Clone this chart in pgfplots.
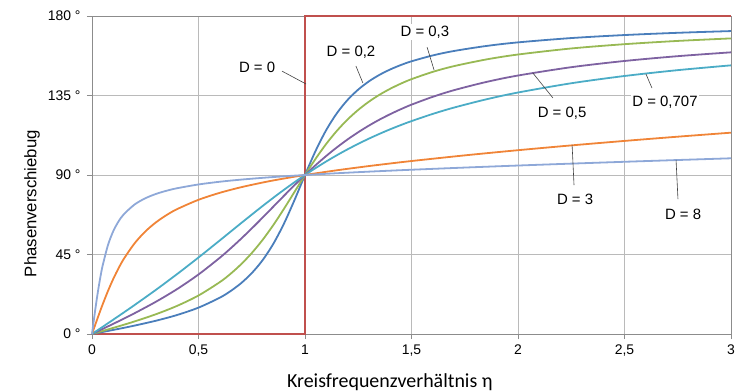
\documentclass[border=0pt]{standalone}
\usepackage{pgfplots}
\pgfplotsset{compat=1.18}
\usepackage{fontspec}
\setmainfont{Liberation Sans}
\newfontfamily\calib{Carlito}
\definecolor{cZero}{HTML}{C0504D}
\definecolor{cA}{HTML}{4A7EBB}
\definecolor{cB}{HTML}{98B954}
\definecolor{cC}{HTML}{7E62A1}
\definecolor{cD}{HTML}{4BACC6}
\definecolor{cE}{HTML}{F08437}
\definecolor{cF}{HTML}{8EA8D8}
\definecolor{gridc}{HTML}{BABABA}
\definecolor{axc}{HTML}{8C8C8C}
\begin{document}
\begin{tikzpicture}
\begin{axis}[
  scale only axis, width=639bp, height=318bp,
  xmin=0, xmax=3, ymin=0, ymax=180,
  clip=false,
  xtick={0,0.5,1,1.5,2,2.5,3},
  xticklabels={0,{0,5},1,{1,5},2,{2,5},3},
  ytick={0,45,90,135,180},
  yticklabels={0 °,45 °,90 °,135 °,180 °},
  tick label style={font=\fontsize{14}{14}\selectfont, black},
  xtick pos=bottom, ytick pos=left,
  tick align=outside, major tick length=5bp,
  tick style={axc, line width=0.75bp},
  grid=major, major grid style={gridc, line width=0.9bp},
  axis line style={axc, line width=0.9bp},
  xticklabel style={yshift=-2bp},
  yticklabel style={xshift=-3bp},
  xlabel={\calib Kreisfrequenzverhältnis η},
  xlabel style={font=\fontsize{20}{20}\selectfont, at={(axis description cs:0.466,-0.151)}, anchor=center},
  ylabel={Phasenverschiebug},
  ylabel style={font=\fontsize{16.8}{16.8}\selectfont, at={(axis description cs:-0.0939,0.41)}, anchor=center},
  every axis plot/.append style={line width=1.8bp},
]
% D = 0
\addplot[cZero, no marks, line join=miter] coordinates {(0,0) (1,0) (1,180) (3,180)};
% D = 0.2
\addplot[cA, no marks, smooth] coordinates {
(0,0) (0.05,1.149) (0.1,2.314) (0.15,3.512) (0.2,4.764) (0.3,7.512) (0.4,10.78) (0.5,14.93) (0.6,20.56) (0.65,24.24) (0.7,28.77) (0.75,34.44) (0.8,41.63) (0.85,50.78) (0.9,62.17) (0.95,75.61) (1,90) (1.05,103.72) (1.1,115.52) (1.15,125.03) (1.2,132.51) (1.25,138.37) (1.3,143.00) (1.35,146.71) (1.4,149.74) (1.45,152.25) (1.5,154.36) (1.6,157.69) (1.7,160.21) (1.85,163.01) (2,165.07) (2.25,167.51) (2.5,169.22) (2.75,170.49) (3,171.47)};
% D = 0.3
\addplot[cB, no marks, smooth] coordinates {
(0,0) (0.05,1.723) (0.1,3.468) (0.15,5.261) (0.2,7.125) (0.3,11.19) (0.4,15.95) (0.5,21.80) (0.6,29.36) (0.65,34.03) (0.7,39.48) (0.75,45.81) (0.8,53.13) (0.85,61.45) (0.9,70.62) (0.95,80.29) (1,90) (1.05,99.24) (1.1,107.65) (1.15,115.05) (1.2,121.43) (1.25,126.87) (1.3,131.50) (1.35,135.44) (1.4,138.81) (1.45,141.72) (1.5,144.25) (1.6,148.39) (1.7,151.64) (1.85,155.38) (2,158.20) (2.25,161.62) (2.5,164.05) (2.75,165.89) (3,167.32)};
% D = 0.5
\addplot[cC, no marks, smooth] coordinates {
(0,0) (0.05,2.870) (0.1,5.768) (0.15,8.724) (0.2,11.77) (0.3,18.25) (0.4,25.46) (0.5,33.69) (0.6,43.15) (0.65,48.38) (0.7,53.92) (0.75,59.74) (0.8,65.77) (0.85,71.92) (0.9,78.08) (0.95,84.14) (1,90) (1.05,95.58) (1.1,100.81) (1.15,105.67) (1.2,110.14) (1.25,114.23) (1.3,117.96) (1.35,121.36) (1.4,124.44) (1.45,127.25) (1.5,129.81) (1.6,134.27) (1.7,138.03) (1.85,142.63) (2,146.31) (2.25,151.02) (2.5,154.54) (2.75,157.26) (3,159.44)};
% D = 0.707
\addplot[cD, no marks, smooth] coordinates {
(0,0) (0.05,4.054) (0.1,8.129) (0.15,12.24) (0.2,16.41) (0.3,24.99) (0.4,33.96) (0.5,43.31) (0.6,52.97) (0.65,57.86) (0.7,62.74) (0.75,67.58) (0.8,72.35) (0.85,77.00) (0.9,81.51) (0.95,85.85) (1,90) (1.05,93.95) (1.1,97.69) (1.15,101.22) (1.2,104.54) (1.25,107.65) (1.3,110.58) (1.35,113.31) (1.4,115.88) (1.45,118.27) (1.5,120.51) (1.6,124.59) (1.7,128.18) (1.85,132.80) (2,136.69) (2.25,141.93) (2.5,146.04) (2.75,149.35) (3,152.07)};
% D = 3
\addplot[cE, no marks, smooth] coordinates {
(0,0) (0.01,3.434) (0.02,6.846) (0.03,10.21) (0.04,13.52) (0.05,16.74) (0.075,24.35) (0.1,31.22) (0.125,37.30) (0.15,42.64) (0.2,51.34) (0.25,57.99) (0.3,63.18) (0.35,67.32) (0.4,70.71) (0.5,75.96) (0.6,79.92) (0.7,83.08) (0.8,85.71) (0.85,86.89) (0.9,87.98) (0.95,89.02) (1,90) (1.05,90.93) (1.1,91.82) (1.15,92.68) (1.2,93.50) (1.3,95.06) (1.4,96.52) (1.5,97.91) (1.75,101.11) (2,104.04) (2.25,106.75) (2.5,109.29) (2.75,111.69) (3,113.96)};
% D = 8
\addplot[cF, no marks, smooth] coordinates {
(0,0) (0.01,9.09) (0.02,17.75) (0.03,25.66) (0.04,32.66) (0.05,38.73) (0.075,50.35) (0.1,58.25) (0.125,63.79) (0.15,67.84) (0.2,73.30) (0.25,76.81) (0.3,79.27) (0.35,81.09) (0.4,82.52) (0.5,84.64) (0.6,86.19) (0.7,87.39) (0.8,88.39) (0.85,88.83) (0.9,89.24) (0.95,89.63) (1,90) (1.05,90.35) (1.1,90.68) (1.15,91.00) (1.2,91.31) (1.3,91.90) (1.4,92.45) (1.5,92.98) (1.75,94.21) (2,95.36) (2.25,96.44) (2.5,97.48) (2.75,98.48) (3,99.46)};
% leader lines
\draw[black!75, line width=0.6bp] (axis cs:0.892,148.8) -- (axis cs:1.005,141.5);
\draw[black!75, line width=0.6bp] (axis cs:1.239,151.7) -- (axis cs:1.272,142.0);
\draw[black!75, line width=0.6bp] (axis cs:1.573,162.4) -- (axis cs:1.606,149.4);
\draw[black!75, line width=0.6bp] (axis cs:2.164,133.6) -- (axis cs:2.070,147.7);
\draw[black!75, line width=0.6bp] (axis cs:2.629,139.2) -- (axis cs:2.601,147.1);
\draw[black!75, line width=0.6bp] (axis cs:2.263,84.3) -- (axis cs:2.254,107.0);
\draw[black!75, line width=0.6bp] (axis cs:2.751,76.4) -- (axis cs:2.742,98.5);
% data labels
\tikzset{dl/.style={fill=white, inner sep=1.5bp, font=\fontsize{15}{15}\selectfont}}
\node[dl] at (axis cs:0.775,151.1) {D = 0};
\node[dl] at (axis cs:1.216,159.6) {D = 0,2};
\node[dl] at (axis cs:1.563,170.9) {D = 0,3};
\node[dl] at (axis cs:2.207,125.1) {D = 0,5};
\node[dl] at (axis cs:2.690,131.3) {D = 0,707};
\node[dl] at (axis cs:2.268,76.4) {D = 3};
\node[dl] at (axis cs:2.775,67.9) {D = 8};
\end{axis}
\pgfresetboundingbox
\path[use as bounding box] (current axis.south west) ++(-92bp,-57bp) rectangle ++(740bp,391bp);
\end{tikzpicture}
\end{document}
